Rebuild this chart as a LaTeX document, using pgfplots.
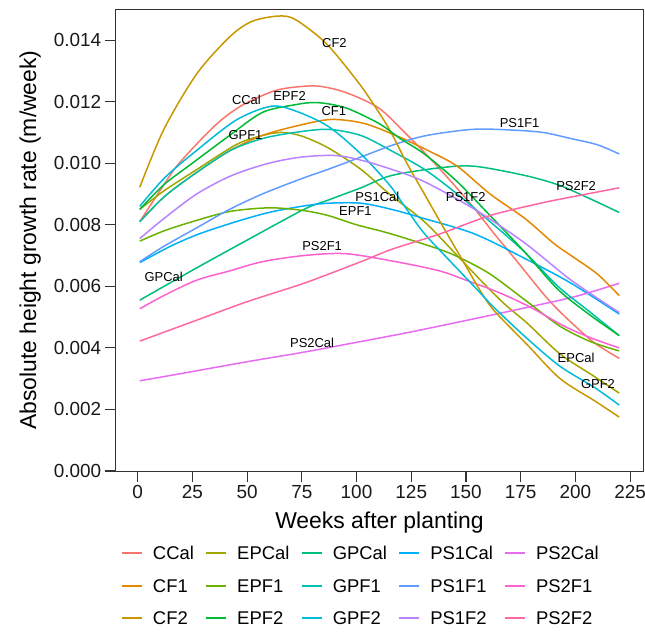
\documentclass[border=0pt]{standalone}
\usepackage{fontspec}
\setmainfont{Liberation Sans}
\usepackage{pgfplots}
\pgfplotsset{compat=1.18}
\definecolor{cCCal}{HTML}{F8766D}
\definecolor{cCF1}{HTML}{E58700}
\definecolor{cCF2}{HTML}{C99800}
\definecolor{cEPCal}{HTML}{A3A500}
\definecolor{cEPF1}{HTML}{6BB100}
\definecolor{cEPF2}{HTML}{00BA38}
\definecolor{cGPCal}{HTML}{00BF7D}
\definecolor{cGPF1}{HTML}{00C0AF}
\definecolor{cGPF2}{HTML}{00BCD8}
\definecolor{cPSaCal}{HTML}{00B0F6}
\definecolor{cPSaF1}{HTML}{619CFF}
\definecolor{cPSaF2}{HTML}{B983FF}
\definecolor{cPSbCal}{HTML}{E76BF3}
\definecolor{cPSbF1}{HTML}{FD61D1}
\definecolor{cPSbF2}{HTML}{FF67A4}
\definecolor{axgray}{HTML}{333333}
\begin{document}
\begin{tikzpicture}
\begin{axis}[
  scale only axis, width=527.6bp, height=461.7bp,
  xmin=-10, xmax=231, ymin=0, ymax=0.015,
  xtick={0,25,50,75,100,125,150,175,200,225},
  xticklabels={0,25,50,75,100,125,150,175,200,225},
  ytick={0,0.002,0.004,0.006,0.008,0.010,0.012,0.014},
  yticklabels={0.000,0.002,0.004,0.006,0.008,0.010,0.012,0.014},
  scaled y ticks=false, scaled x ticks=false,
  tick align=outside, major tick length=11bp,
  xtick pos=bottom, ytick pos=left,
  axis line style={color=axgray, line width=1bp},
  every tick/.style={color=axgray, line width=1.1bp},
  tick label style={font=\fontsize{19}{22}\selectfont, color=black!90},
  xlabel={Weeks after planting},
  ylabel={Absolute height growth rate (m/week)},
  every axis x label/.style={at={(axis description cs:0.5,-0.1235)}, anchor=base, font=\fontsize{23}{26}\selectfont},
  every axis y label/.style={at={(axis description cs:-0.151,0.5)}, rotate=90, anchor=base, font=\fontsize{23}{26}\selectfont},
  no markers,
  every axis plot/.append style={line width=1.5bp},
  legend columns=5,
  legend cell align=left,
  legend image code/.code={\draw[#1, line width=1.8bp] (0bp,0bp) -- (20bp,0bp);},
  legend style={draw=none, fill=none, inner sep=0pt,
    at={(axis description cs:0.01,-0.1635)}, anchor=north west,
    font=\fontsize{18.5}{20}\selectfont,
    nodes={inner sep=0pt, text height=13bp, text depth=0bp},
    row sep=19.5bp,
    /tikz/every odd column/.append style={column sep=10bp},
    /tikz/every even column/.append style={column sep=11.5bp}},
]
\coordinate (O) at (rel axis cs:0,0);
% row 1
\addplot[color=cCCal, smooth] coordinates {(1,0.0081) (12,0.0093) (19,0.0100) (35,0.0112) (47,0.01185) (62,0.01234) (73,0.01248) (83,0.0125) (95,0.0123) (110,0.0118) (122,0.0110) (133,0.0102) (142,0.0095) (153,0.0086) (163,0.0077) (170,0.0071) (178,0.0064) (186,0.0057) (194,0.0051) (208,0.0042) (220,0.00366)};
\addlegendentry{CCal}
\addplot[color=cEPCal, smooth] coordinates {(1,0.0085) (12,0.0091) (25,0.0097) (45,0.0106) (57,0.0109) (66,0.0110) (75,0.01088) (87,0.0105) (102,0.0098) (115,0.0090) (131,0.0081) (146,0.0070) (158,0.0061) (168,0.0054) (178,0.0048) (193,0.0038) (208,0.0031) (220,0.00253)};
\addlegendentry{EPCal}
\addplot[color=cGPCal, smooth] coordinates {(1,0.00555) (27,0.0066) (50,0.0075) (76,0.0085) (87,0.0088) (102,0.0092) (116,0.0096) (138,0.00985) (154,0.0099) (177,0.0096) (192,0.0093) (205,0.0089) (220,0.0084)};
\addlegendentry{GPCal}
\addplot[color=cPSaCal, smooth] coordinates {(1,0.00677) (15,0.0073) (28,0.0077) (45,0.0081) (60,0.0084) (75,0.0086) (87,0.0087) (102,0.0087) (116,0.0085) (131,0.0082) (154,0.0077) (177,0.0069) (198,0.0061) (220,0.0051)};
\addlegendentry{PS1Cal}
\addplot[color=cPSbCal, smooth] coordinates {(1,0.00293) (25,0.00323) (50,0.00355) (75,0.00385) (100,0.00418) (125,0.00452) (150,0.00489) (175,0.00527) (200,0.00567) (220,0.0061)};
\addlegendentry{PS2Cal}
% row 2
\addplot[color=cCF1, smooth] coordinates {(1,0.0081) (12,0.0089) (25,0.0096) (42,0.0104) (57,0.0109) (72,0.0112) (88,0.01142) (103,0.0113) (118,0.0109) (133,0.0104) (146,0.0099) (161,0.0090) (177,0.0082) (190,0.0074) (198,0.0070) (210,0.0064) (220,0.0057)};
\addlegendentry{CF1}
\addplot[color=cEPF1, smooth] coordinates {(1,0.00747) (12,0.0078) (25,0.0081) (42,0.00843) (60,0.00855) (75,0.00847) (87,0.0083) (100,0.0080) (116,0.0077) (138,0.0072) (148,0.0069) (161,0.0064) (178,0.0055) (193,0.0047) (207,0.0042) (220,0.0039)};
\addlegendentry{EPF1}
\addplot[color=cGPF1, smooth] coordinates {(1,0.0081) (12,0.0089) (25,0.0096) (42,0.0104) (57,0.0108) (72,0.0110) (87,0.0111) (102,0.0109) (116,0.0104) (131,0.0098) (146,0.0090) (161,0.0081) (177,0.0071) (192,0.0060) (206,0.0052) (220,0.0044)};
\addlegendentry{GPF1}
\addplot[color=cPSaF1, smooth] coordinates {(1,0.0068) (12,0.0073) (27,0.0079) (42,0.0085) (57,0.0090) (75,0.0095) (87,0.0098) (102,0.0102) (117,0.0106) (132,0.0109) (153,0.0111) (170,0.01108) (185,0.0110) (198,0.0108) (210,0.0106) (220,0.0103)};
\addlegendentry{PS1F1}
\addplot[color=cPSbF1, smooth] coordinates {(1,0.00527) (12,0.0057) (27,0.0062) (42,0.0065) (57,0.0068) (76,0.0070) (95,0.00706) (118,0.0068) (138,0.0065) (150,0.0062) (165,0.0058) (180,0.0053) (195,0.0047) (208,0.0043) (220,0.0040)};
\addlegendentry{PS2F1}
% row 3
\addplot[color=cCF2, smooth] coordinates {(1,0.00922) (12,0.0111) (27,0.0129) (42,0.0141) (52,0.0146) (64,0.01478) (72,0.01467) (86,0.0139) (100,0.0127) (107,0.0120) (115,0.0111) (123,0.0100) (131,0.0090) (139,0.0080) (148,0.0069) (157,0.0058) (163,0.0052) (178,0.0041) (193,0.0030) (209,0.00227) (220,0.00175)};
\addlegendentry{CF2}
\addplot[color=cEPF2, smooth] coordinates {(1,0.0085) (12,0.0093) (25,0.0100) (42,0.0109) (57,0.01165) (72,0.0119) (82,0.01197) (95,0.0118) (110,0.0113) (120,0.0108) (131,0.0103) (146,0.0094) (161,0.0083) (177,0.0071) (192,0.0059) (206,0.0051) (220,0.0044)};
\addlegendentry{EPF2}
\addplot[color=cGPF2, smooth] coordinates {(1,0.0086) (12,0.0095) (25,0.0103) (45,0.0114) (61,0.01185) (72,0.0117) (87,0.0112) (102,0.0103) (115,0.0093) (121,0.0087) (130,0.0078) (139,0.0071) (147,0.0065) (155,0.0059) (163,0.0053) (178,0.0043) (193,0.0034) (209,0.0027) (220,0.00214)};
\addlegendentry{GPF2}
\addplot[color=cPSaF2, smooth] coordinates {(1,0.00755) (12,0.0082) (27,0.0090) (43,0.0096) (60,0.0100) (75,0.0102) (90,0.01025) (102,0.0101) (116,0.0098) (131,0.0094) (154,0.0085) (177,0.0074) (198,0.0062) (220,0.00515)};
\addlegendentry{PS1F2}
\addplot[color=cPSbF2, smooth] coordinates {(1,0.00422) (27,0.0049) (50,0.0055) (76,0.0061) (102,0.0068) (116,0.0072) (138,0.0077) (161,0.0083) (184,0.0087) (198,0.0089) (220,0.0092)};
\addlegendentry{PS2F2}
% direct labels
\begin{scope}[every node/.style={font=\fontsize{13}{15}\selectfont, inner sep=0pt}]
\node at (axis cs:89.9,0.01391) {CF2};
\node at (axis cs:49.7,0.01207) {CCal};
\node at (axis cs:69.4,0.01218) {EPF2};
\node at (axis cs:89.6,0.01171) {CF1};
\node at (axis cs:49.3,0.0109) {GPF1};
\node at (axis cs:174.5,0.01129) {PS1F1};
\node at (axis cs:200.3,0.00925) {PS2F2};
\node at (axis cs:109.5,0.0089) {PS1Cal};
\node at (axis cs:149.9,0.00891) {PS1F2};
\node at (axis cs:99.5,0.00843) {EPF1};
\node at (axis cs:11.9,0.0063) {GPCal};
\node at (axis cs:84.3,0.00731) {PS2F1};
\node at (axis cs:79.7,0.00417) {PS2Cal};
\node at (axis cs:200.3,0.00368) {EPCal};
\node at (axis cs:210.3,0.00281) {GPF2};
\end{scope}
\end{axis}
\pgfresetboundingbox
\path (O) ++(-115.7bp,-164bp) rectangle ++(645bp,635bp);
\end{tikzpicture}
\end{document}
